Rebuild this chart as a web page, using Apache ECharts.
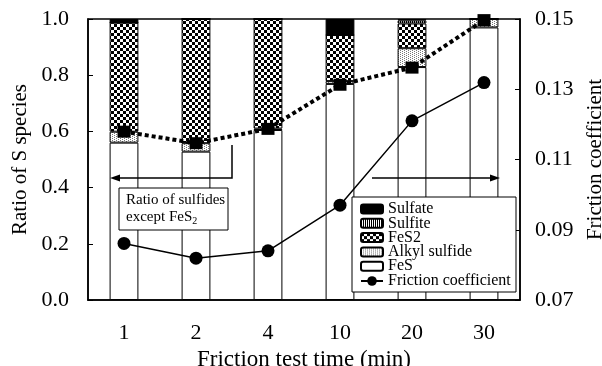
<!DOCTYPE html>
<html><head><meta charset="utf-8">
<script src="https://cdn.jsdelivr.net/npm/echarts@6/dist/echarts.min.js"></script>
<style>html,body{margin:0;padding:0;background:#fff}#c{width:602px;height:366px}</style>
</head><body><div id="c"></div>
<script>
const categories = ['1', '2', '4', '10', '20', '30'];
const fes = [0.560, 0.528, 0.605, 0.769, 0.829, 0.970];
const alkyl = [0.039, 0.030, 0.005, 0.010, 0.067, 0.030];
const fes2 = [0.388, 0.442, 0.390, 0.164, 0.088, 0.000];
const sulfite = [0.000, 0.000, 0.000, 0.000, 0.011, 0.000];
const sulfate = [0.013, 0.000, 0.000, 0.057, 0.005, 0.000];
const sulfideRatio = [0.599, 0.558, 0.609, 0.766, 0.827, 0.996];
const friction = [0.0861, 0.0819, 0.0840, 0.0970, 0.1210, 0.1319];
const leftAxisRange = [0, 1, 0.2];
const rightAxisRange = [0.07, 0.15, 0.02];

const FONT = 'Liberation Serif';
function pat(w, h, draw) {
  const c = document.createElement('canvas'); c.width = w; c.height = h;
  const x = c.getContext('2d'); x.fillStyle = '#fff'; x.fillRect(0, 0, w, h);
  x.fillStyle = '#000'; draw(x);
  return { image: c, repeat: 'repeat' };
}
const checker = pat(6, 6, x => { x.fillRect(0, 0, 3, 3); x.fillRect(3, 3, 3, 3); });
const stripes = pat(2, 1, x => x.fillRect(0, 0, 1, 1));
const dots = pat(4, 2, x => { x.fillStyle = '#777'; x.fillRect(0, 0, 1, 1); x.fillRect(2, 1, 1, 1); });

function bar(name, data, color) {
  return { name, type: 'bar', stack: 's', data, barWidth: '40%',
    itemStyle: { color, borderColor: '#000', borderWidth: 1 }, emphasis: { disabled: true } };
}
const legendText = { fontFamily: FONT, fontSize: 16, color: '#000' };

const chart = echarts.init(document.getElementById('c'), null, { renderer: 'canvas' });
chart.setOption({
  backgroundColor: '#fff',
  animation: false,
  grid: { left: 88, right: 82, top: 19, bottom: 66, show: true, borderColor: '#000', borderWidth: 1.5,
          containLabel: false, outerBoundsMode: 'none' },
  legend: [{
    data: ['Sulfate', 'Sulfite', 'FeS2', 'Alkyl sulfide', 'FeS'],
    orient: 'vertical', left: 360, top: 201, itemGap: -1.7, itemWidth: 22, itemHeight: 9, padding: 0, z: 6,
    textStyle: legendText, selectedMode: false
  }, {
    data: ['Friction coefficient'],
    orient: 'vertical', left: 360, top: 273, itemGap: 0, itemWidth: 22, itemHeight: 12, padding: 0, z: 6,
    textStyle: legendText, selectedMode: false
  }],
  xAxis: {
    type: 'category', data: categories,
    axisLine: { lineStyle: { color: '#000', width: 1.5 } },
    axisTick: { inside: true, length: 5, lineStyle: { color: '#000' } },
    axisLabel: { fontFamily: FONT, fontSize: 22, color: '#000', margin: 22 },
    name: 'Friction test time (min)', nameLocation: 'middle', nameGap: 45,
    nameTextStyle: { fontFamily: FONT, fontSize: 23, color: '#000' }
  },
  yAxis: [{
    type: 'value', min: leftAxisRange[0], max: leftAxisRange[1], interval: leftAxisRange[2],
    axisLine: { show: true, lineStyle: { color: '#000', width: 1.5 } },
    axisTick: { show: true, inside: true, length: 5, lineStyle: { color: '#000' } },
    splitLine: { show: false },
    axisLabel: { fontFamily: FONT, fontSize: 22, color: '#000', margin: 19, formatter: v => v.toFixed(1) },
    name: 'Ratio of S species', nameLocation: 'middle', nameGap: 56,
    nameTextStyle: { fontFamily: FONT, fontSize: 21, color: '#000' }
  }, {
    type: 'value', position: 'right', min: rightAxisRange[0], max: rightAxisRange[1], interval: rightAxisRange[2],
    axisLine: { show: true, lineStyle: { color: '#000', width: 1.5 } },
    axisTick: { show: true, inside: true, length: 5, lineStyle: { color: '#000' } },
    splitLine: { show: false },
    axisLabel: { fontFamily: FONT, fontSize: 22, color: '#000', margin: 15, formatter: v => v.toFixed(2) },
    name: 'Friction coefficient', nameLocation: 'middle', nameGap: 65,
    nameTextStyle: { fontFamily: FONT, fontSize: 21, color: '#000' }
  }],
  series: [
    bar('FeS', fes, '#fff'),
    bar('Alkyl sulfide', alkyl, dots),
    bar('FeS2', fes2, checker),
    bar('Sulfite', sulfite, stripes),
    bar('Sulfate', sulfate, '#000'),
    { name: 'Ratio of sulfides', type: 'line', data: sulfideRatio, yAxisIndex: 0,
      symbol: 'rect', symbolSize: [13, 12], itemStyle: { color: '#000' },
      lineStyle: { color: '#000', width: 4, type: [4, 3] }, z: 5 },
    { name: 'Friction coefficient', type: 'line', data: friction, yAxisIndex: 1,
      symbol: 'circle', symbolSize: 13, itemStyle: { color: '#000' },
      lineStyle: { color: '#000', width: 1.5 }, z: 6 }
  ],
  graphic: [
    { type: 'rect', z: 4, shape: { x: 352, y: 197, width: 164, height: 95 }, style: { fill: '#fff', stroke: '#000', lineWidth: 1 } },
    { type: 'polyline', z: 10, shape: { points: [[232, 145], [232, 178], [116, 178]] }, style: { stroke: '#000', lineWidth: 1.5, fill: null } },
    { type: 'polygon', z: 10, shape: { points: [[110, 178], [120, 174.5], [120, 181.5]] }, style: { fill: '#000' } },
    { type: 'line', z: 10, shape: { x1: 372, y1: 178, x2: 494, y2: 178 }, style: { stroke: '#000', lineWidth: 1.5 } },
    { type: 'polygon', z: 10, shape: { points: [[500, 178], [490, 174.5], [490, 181.5]] }, style: { fill: '#000' } },
    { type: 'rect', z: 10, shape: { x: 119, y: 188, width: 109, height: 42 }, style: { fill: '#fff', stroke: '#000', lineWidth: 1 } },
    { type: 'text', z: 11, x: 126, y: 192, style: {
        text: '{a|Ratio of sulfides}\n{a|except FeS}{s|2}',
        rich: { a: { fontFamily: FONT, fontSize: 15, fill: '#000', lineHeight: 17 },
                s: { fontFamily: FONT, fontSize: 10, fill: '#000', lineHeight: 17, verticalAlign: 'bottom', padding: [6, 0, 0, 0] } } } }
  ]
});
</script></body></html>
